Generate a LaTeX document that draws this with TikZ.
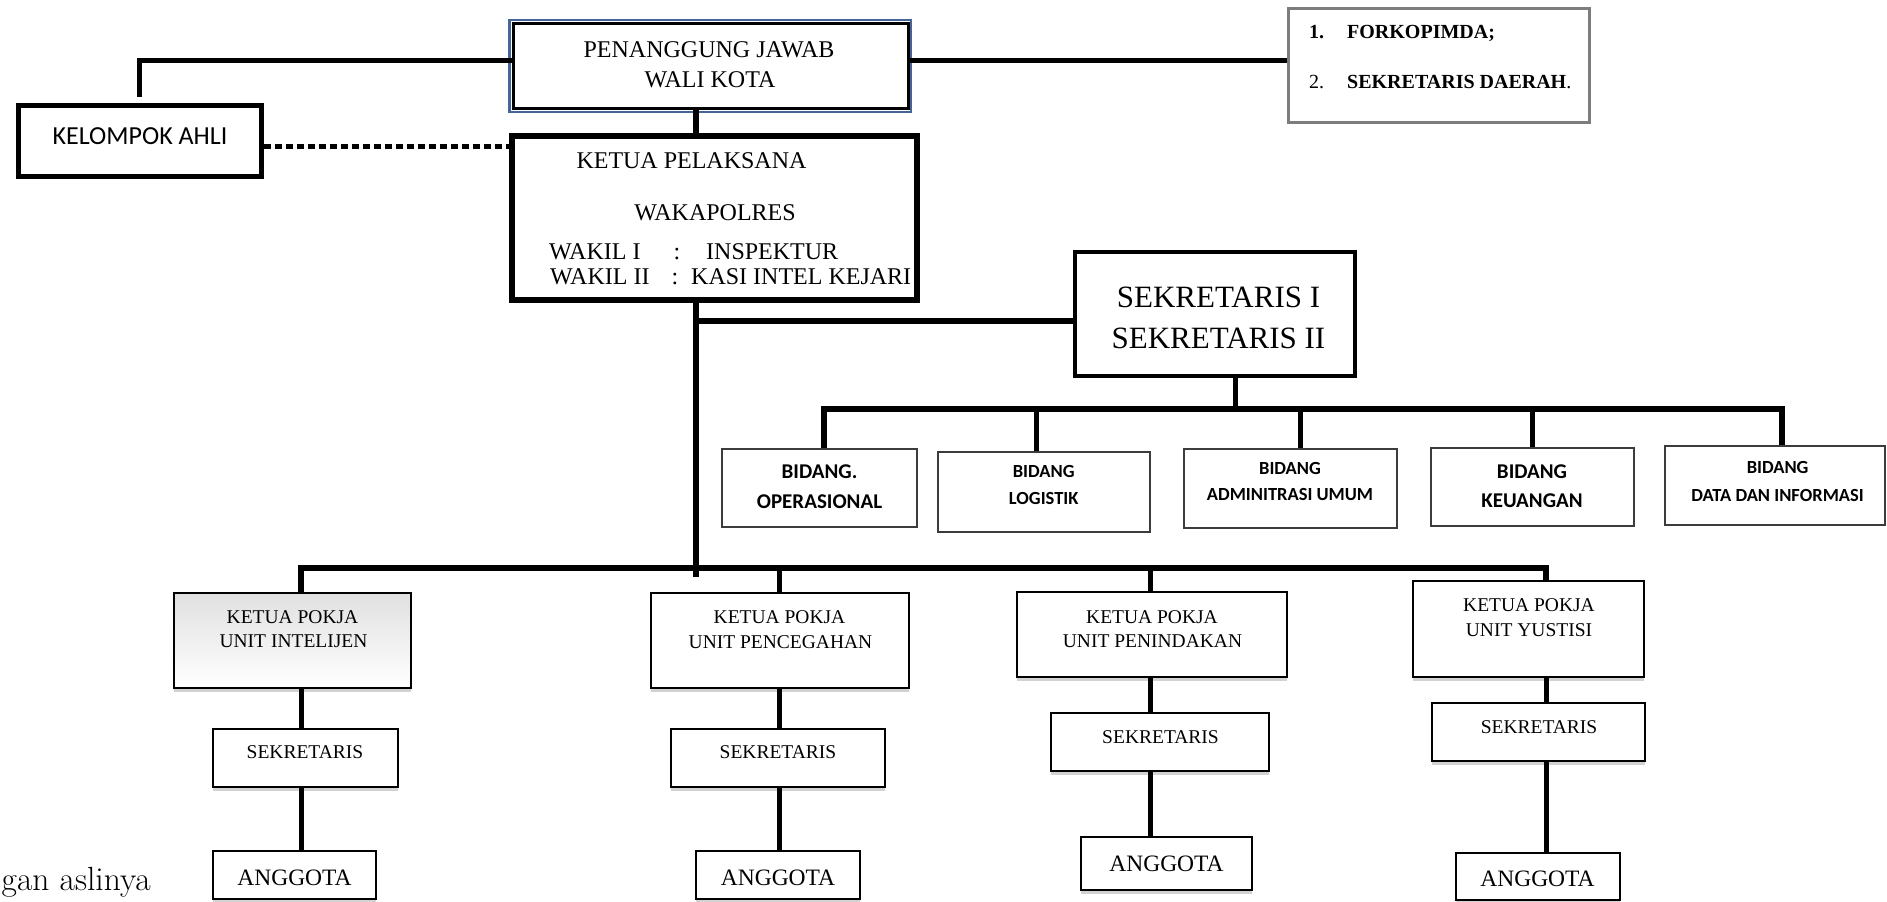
\documentclass[tikz,border=0pt]{standalone}
\usepackage{fontspec}
\newfontfamily\ser{Liberation Serif}
\newfontfamily\sansf{Carlito}
\usetikzlibrary{fit,shadows}
\definecolor{pjblue}{RGB}{70,100,150}
\definecolor{fkgray}{RGB}{125,125,125}
\definecolor{bdgray}{RGB}{60,60,60}
\begin{document}
\begin{tikzpicture}[x=1pt,y=-1pt,line join=miter,
  conn/.style={line width=5pt},
  bus/.style={line width=6pt},
  bk/.style={inner sep=0pt,draw,fill=white},
  kpbox/.style={bk,line width=5.5pt},
  kabox/.style={bk,line width=5pt},
  skbox/.style={bk,line width=3.5pt},
  bdbox/.style={bk,draw=bdgray,line width=1.6pt},
  pkbox/.style={bk,line width=2pt,drop shadow={shadow xshift=0pt,shadow yshift=-3.5pt,fill=black!35}},
  fkbox/.style={bk,draw=fkgray,line width=3pt},
  tx/.style={inner sep=0pt,text depth=0pt},
  tS24/.style={tx,font=\ser\fontsize{24}{24}\selectfont,text height=15.9pt},
  tS31/.style={tx,font=\ser\fontsize{31}{31}\selectfont,text height=20.5pt},
  tP/.style={tx,font=\ser\fontsize{19.5}{19.5}\selectfont,text height=12.9pt},
  tAng/.style={tx,font=\ser\fontsize{23.5}{23.5}\selectfont,text height=15.6pt},
  tK/.style={tx,font=\sansf\fontsize{26}{26}\selectfont,text height=16.7pt},
  tBid/.style={tx,font=\sansf\bfseries\fontsize{21}{21}\selectfont,text height=13.5pt},
  tBidS/.style={tx,font=\sansf\bfseries\fontsize{18.5}{18.5}\selectfont,text height=11.9pt},
  tFkB/.style={tx,font=\ser\bfseries\fontsize{20}{20}\selectfont,text height=13.2pt},
  tFkR/.style={tx,font=\ser\fontsize{20}{20}\selectfont,text height=13.2pt}]
\useasboundingbox (0,0) rectangle (1887,902);
\fill[white] (0,0) rectangle (1887,902);

% reference coordinates
\coordinate (yTop) at (0,60);
\coordinate (yDot) at (0,146);
\coordinate (xT) at (696,0);
\coordinate (trunkEnd) at (0,577);
\coordinate (ySk) at (0,321);
\coordinate (xSk) at (1235,0);
\coordinate (ySb) at (0,409);
\coordinate (xB1) at (824,0);
\coordinate (xB2) at (1036,0);
\coordinate (xB3) at (1300,0);
\coordinate (xB4) at (1532,0);
\coordinate (xB5) at (1782,0);
\coordinate (yBb) at (0,568);
\coordinate (xP1) at (301,0);
\coordinate (xP2) at (779,0);
\coordinate (xP3) at (1150,0);
\coordinate (xP4) at (1546,0);

% top boxes
\node[fit={(509.5,20)(911,112)},inner sep=0pt,draw=pjblue,line width=2.5pt] (pjo) {};
\node[fit={(513,23)(908,108)},bk,line width=3pt] (pj) {};
\node[tS24] (t1) at (709,50) {PENANGGUNG JAWAB};
\node[tS24] (t2) at (710,80) {WALI KOTA};

\node[fit={(18,105)(261,176)},kabox] (ka) {};
\node[tK] (t3) at (140,136) {KELOMPOK AHLI};

\node[fit={(1288,8)(1589,122)},fkbox] (fk) {};
\node[tFkB,anchor=west] (f1n) at (1309,32) {1.};
\node[tFkB,anchor=west] (f1) at (1347,32) {FORKOPIMDA;};
\node[tFkR,anchor=west] (f2n) at (1309,82) {2.};
\node[tFkB,anchor=west] (f2) at (1347,82) {SEKRETARIS DAERAH{\mdseries.}};

% ketua
\node[fit={(512,136)(917,300)},kpbox] (kp) {};
\node[tS24] (k1) at (691.5,161) {KETUA PELAKSANA};
\node[tS24] (k2) at (715,213) {WAKAPOLRES};
\node[tS24,anchor=west] (k3) at (549,252) {WAKIL I};
\node[tS24] (k3c) at (677,252) {:};
\node[tS24,anchor=west] (k3b) at (706,252) {INSPEKTUR};
\node[tS24,anchor=west] (k4) at (550,277) {WAKIL II};
\node[tS24] (k4c) at (675,277) {:};
\node[tS24,anchor=west] (k4b) at (691,277) {KASI INTEL KEJARI};

% sekretaris I/II
\node[fit={(1075,252)(1355,376)},skbox] (sk) {};
\node[tS31] (s1) at (1218.5,297) {SEKRETARIS I};
\node[tS31] (s2) at (1218.5,338) {SEKRETARIS II};

% bidang
\node[fit={(722,449)(917,527)},bdbox] (bd1) {};
\node[tBid] (b1a) at (819.5,472) {BIDANG.};
\node[tBid] (b1b) at (819.5,502) {OPERASIONAL};
\node[fit={(938,452)(1150,532)},bdbox] (bd2) {};
\node[tBidS] (b2a) at (1043.7,472) {BIDANG};
\node[tBidS] (b2b) at (1043.7,499) {LOGISTIK};
\node[fit={(1184,449)(1397,528)},bdbox] (bd3) {};
\node[tBidS] (b3a) at (1290,469) {BIDANG};
\node[tBidS] (b3b) at (1290,495) {ADMINITRASI UMUM};
\node[fit={(1431,448)(1634,526)},bdbox] (bd4) {};
\node[tBid] (b4a) at (1532,472) {BIDANG};
\node[tBid] (b4b) at (1532,501) {KEUANGAN};
\node[fit={(1665,446)(1885,525)},bdbox] (bd5) {};
\node[tBidS] (b5a) at (1777.6,468) {BIDANG};
\node[tBidS] (b5b) at (1777.6,496) {DATA DAN INFORMASI};

% pokja
\node[fit={(174,593)(411,688)},pkbox,top color=black!12,bottom color=white] (p1) {};
\node[tP] (p1a) at (292.5,617) {KETUA POKJA};
\node[tP] (p1b) at (293.5,641) {UNIT INTELIJEN};
\node[fit={(651,593)(909,688)},pkbox] (p2) {};
\node[tP] (p2a) at (779.5,617) {KETUA POKJA};
\node[tP] (p2b) at (780.5,642) {UNIT PENCEGAHAN};
\node[fit={(1017,592)(1287,677)},pkbox] (p3) {};
\node[tP] (p3a) at (1152,617) {KETUA POKJA};
\node[tP] (p3b) at (1152.5,641) {UNIT PENINDAKAN};
\node[fit={(1413,581)(1644,677)},pkbox] (p4) {};
\node[tP] (p4a) at (1529,605) {KETUA POKJA};
\node[tP] (p4b) at (1529,630) {UNIT YUSTISI};

% sekretaris kecil
\node[fit={(213,729)(398,787)},pkbox] (q1) {};
\node[tP] (q1a) at (305,752) {SEKRETARIS};
\node[fit={(671,729)(885,787)},pkbox] (q2) {};
\node[tP] (q2a) at (778,752) {SEKRETARIS};
\node[fit={(1051,713)(1269,771)},pkbox] (q3) {};
\node[tP] (q3a) at (1160.5,737) {SEKRETARIS};
\node[fit={(1432,703)(1645,761)},pkbox] (q4) {};
\node[tP] (q4a) at (1539,727) {SEKRETARIS};

% anggota
\node[fit={(213,851)(376,899)},pkbox] (a1) {};
\node[tAng] (a1a) at (294.5,878) {ANGGOTA};
\node[fit={(696,851)(860,899)},pkbox] (a2) {};
\node[tAng] (a2a) at (778,878) {ANGGOTA};
\node[fit={(1081,837)(1252,890)},pkbox] (a3) {};
\node[tAng] (a3a) at (1166.5,864) {ANGGOTA};
\node[fit={(1456,853)(1620,900)},pkbox] (a4) {};
\node[tAng] (a4a) at (1537.5,879) {ANGGOTA};

% fragment of text at bottom left
\node[inner sep=0pt,anchor=base east,font=\fontsize{33.5}{33.5}\selectfont] (gan) at (151,890) {gan aslinya};

% connectors top
\draw[conn] (pj.west |- yTop) -| ([yshift=6pt]ka.north);
\draw[conn] (pj.east |- yTop) -- (fk.west |- yTop);
\draw[conn,dash pattern=on 7pt off 4pt] (ka.east |- yDot) -- (kp.west |- yDot);
\draw[line width=5.5pt] (xT |- pj.south) -- (xT |- kp.north);
\draw[line width=6pt] (xT |- kp.south) -- (xT |- trunkEnd);
\draw[line width=5.5pt] (xT |- ySk) -- (sk.west |- ySk);
\draw[conn] (xSk |- sk.south) -- (xSk |- ySb);

% bidang bus
\draw[bus] (xB1 |- bd1.north) -- (xB1 |- ySb) -- (xB5 |- ySb) -- (xB5 |- bd5.north);
\draw[conn] (xB2 |- ySb) -- (xB2 |- bd2.north);
\draw[conn] (xB3 |- ySb) -- (xB3 |- bd3.north);
\draw[conn] (xB4 |- ySb) -- (xB4 |- bd4.north);

% pokja bus
\draw[bus] (xP1 |- p1.north) -- (xP1 |- yBb) -- (xP4 |- yBb) -- (xP4 |- p4.north);
\draw[conn] (xP2 |- yBb) -- (xP2 |- p2.north);
\draw[conn] (xP3 |- yBb) -- (xP3 |- p3.north);

% columns
\draw[conn] (xP1 |- p1.south) -- (xP1 |- q1.north);
\draw[conn] (xP1 |- q1.south) -- (xP1 |- a1.north);
\draw[conn] (xP2 |- p2.south) -- (xP2 |- q2.north);
\draw[conn] (xP2 |- q2.south) -- (xP2 |- a2.north);
\draw[conn] (xP3 |- p3.south) -- (xP3 |- q3.north);
\draw[conn] (xP3 |- q3.south) -- (xP3 |- a3.north);
\draw[conn] (xP4 |- p4.south) -- (xP4 |- q4.north);
\draw[conn] (xP4 |- q4.south) -- (xP4 |- a4.north);
\end{tikzpicture}
\end{document}
